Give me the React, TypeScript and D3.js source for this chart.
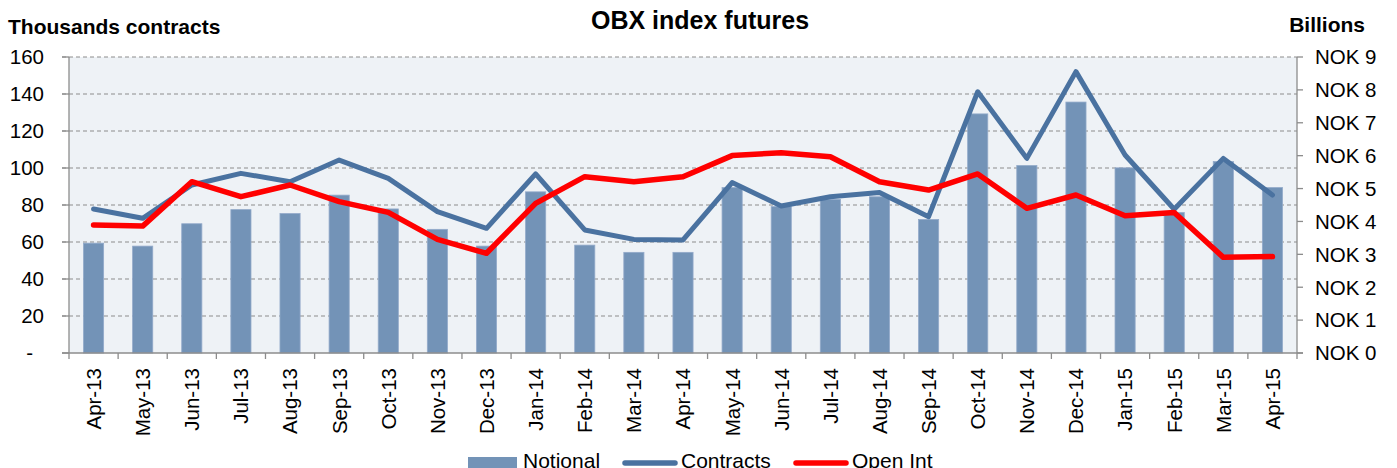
import React from "react";
import * as d3 from "d3";

const months = ["Apr-13","May-13","Jun-13","Jul-13","Aug-13","Sep-13","Oct-13","Nov-13","Dec-13","Jan-14","Feb-14","Mar-14","Apr-14","May-14","Jun-14","Jul-14","Aug-14","Sep-14","Oct-14","Nov-14","Dec-14","Jan-15","Feb-15","Mar-15","Apr-15"];
// Notional, billions NOK (right axis)
const notional = [3.34,3.25,3.93,4.36,4.24,4.80,4.38,3.76,3.25,4.90,3.28,3.06,3.06,5.03,4.45,4.67,4.75,4.06,7.27,5.70,7.63,5.63,4.27,5.82,5.03];
// Contracts, thousands (left axis)
const contracts = [77.8,72.8,90.8,97.1,92.6,104.3,94.4,76.4,67.4,96.8,66.5,61.4,61.1,92.1,79.5,84.5,86.7,73.7,141.2,105.2,152.1,107,77.7,105.2,85.4];
// Open interest, thousands (left axis)
const openInt = [69.2,68.6,92.6,84.5,90.8,81.8,76.0,61.4,53.9,80.9,95.3,92.6,95.3,106.7,108.3,106.1,92.6,88.1,96.8,78.2,85.4,74.2,75.9,51.7,52.1];
const leftTicks = [0,20,40,60,80,100,120,140,160];
const rightTicks = [0,1,2,3,4,5,6,7,8,9];

const W = 1397, H = 468;
const m = { left: 69, right: 1297, top: 57, bottom: 353 };
const FONT = "'Liberation Sans', Arial, Helvetica, sans-serif";
const BAR = "#7393B7";
const BLUE = "#4A72A0";
const RED = "#FF0000";
const GRID = "#8C8C8C";
const AXIS = "#8C8C8C";

export default function App() {
  const x = d3.scaleBand<string>().domain(months).range([m.left, m.right]).paddingInner(0).paddingOuter(0);
  const yL = d3.scaleLinear().domain([0, 160]).range([m.bottom, m.top]);
  const yR = d3.scaleLinear().domain([0, 9]).range([m.bottom, m.top]);
  const bw = x.bandwidth() * 0.41;
  const cx = (d: string) => (x(d) as number) + x.bandwidth() / 2;

  const lineL = (vals: number[]) =>
    d3.line<number>().x((_, i) => cx(months[i])).y((v) => yL(v))(vals) as string;

  const boundaries = d3.range(months.length + 1).map((k) => m.left + k * x.bandwidth());

  return (
    <svg width={W} height={H} style={{ position: "absolute", left: 0, top: 0, background: "#fff" }} fontFamily={FONT}>
      {/* titles */}
      <text x={700} y={29} textAnchor="middle" fontSize={25} fontWeight="bold">OBX index futures</text>
      <text x={8} y={34} fontSize={21} fontWeight="bold">Thousands contracts</text>
      <text x={1365} y={32} textAnchor="end" fontSize={21} fontWeight="bold">Billions</text>

      {/* plot background */}
      <rect x={m.left} y={m.top} width={m.right - m.left} height={m.bottom - m.top} fill="#EEF2F6" />

      {/* gridlines */}
      {leftTicks.filter((t) => t > 0).map((t) => (
        <line key={"g" + t} x1={m.left - 7} x2={m.right} y1={yL(t)} y2={yL(t)} stroke={GRID} strokeWidth={1} strokeDasharray="4,3" />
      ))}

      {/* bars */}
      {months.map((mo, i) => (
        <rect key={"b" + mo} x={cx(mo) - bw / 2} y={yR(notional[i])} width={bw} height={m.bottom - yR(notional[i])}
          fill={BAR} stroke="#93AACA" strokeWidth={0.8} />
      ))}

      {/* lines */}
      <path d={lineL(contracts)} fill="none" stroke={BLUE} strokeWidth={5} strokeLinejoin="round" strokeLinecap="round" />
      <path d={lineL(openInt)} fill="none" stroke={RED} strokeWidth={5.5} strokeLinejoin="round" strokeLinecap="round" />

      {/* left axis */}
      <line x1={m.left} x2={m.left} y1={m.top} y2={m.bottom} stroke={AXIS} strokeWidth={1.3} />
      {leftTicks.map((t) => (
        <g key={"l" + t}>
          <line x1={m.left - 7} x2={m.left} y1={yL(t)} y2={yL(t)} stroke={AXIS} strokeWidth={1.3} />
          <text x={t === 0 ? 33 : 44} y={yL(t)} dy="0.36em" textAnchor="end" fontSize={20.5} fill="#000">
            {t === 0 ? "-" : String(t)}
          </text>
        </g>
      ))}

      {/* right axis */}
      <line x1={m.right} x2={m.right} y1={m.top} y2={m.bottom} stroke={AXIS} strokeWidth={1.3} />
      {rightTicks.map((t) => (
        <g key={"r" + t}>
          <line x1={m.right} x2={m.right + 6} y1={yR(t)} y2={yR(t)} stroke={AXIS} strokeWidth={1.3} />
          <text x={1315} y={yR(t)} dy="0.36em" textAnchor="start" fontSize={20.5} fill="#000">{"NOK " + t}</text>
        </g>
      ))}

      {/* bottom axis */}
      <line x1={m.left - 7} x2={m.right + 6} y1={m.bottom} y2={m.bottom} stroke={AXIS} strokeWidth={1.3} />
      {boundaries.map((bx, k) => (
        <line key={"bt" + k} x1={bx} x2={bx} y1={m.bottom} y2={m.bottom + 6} stroke={AXIS} strokeWidth={1.3} />
      ))}
      {months.map((mo) => (
        <text key={"xl" + mo} transform={`translate(${cx(mo)},${m.bottom + 15}) rotate(-90)`} dy="0.36em"
          textAnchor="end" fontSize={20.5} fill="#000">{mo}</text>
      ))}

      {/* legend */}
      <rect x={468} y={457} width={49} height={14} fill={BAR} />
      <text x={523} y={468} fontSize={21}>Notional</text>
      <line x1={625} x2={675} y1={463} y2={463} stroke={BLUE} strokeWidth={5.5} strokeLinecap="round" />
      <text x={681} y={468} fontSize={21}>Contracts</text>
      <line x1={796} x2={846} y1={463} y2={463} stroke={RED} strokeWidth={5.5} strokeLinecap="round" />
      <text x={852} y={468} fontSize={21}>Open Int</text>
    </svg>
  );
}
